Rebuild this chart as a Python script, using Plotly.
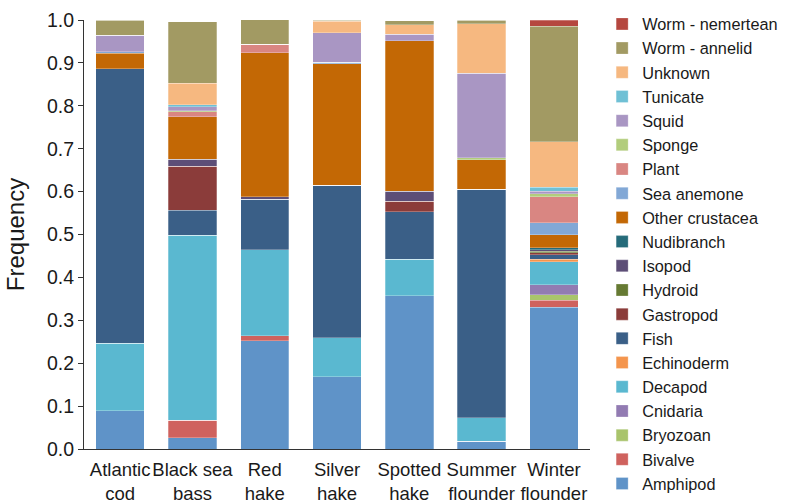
import plotly.graph_objects as go

# Predator species (x categories)
species = ["Atlantic<br>cod", "Black sea<br>bass", "Red<br>hake", "Silver<br>hake",
           "Spotted<br>hake", "Summer<br>flounder", "Winter<br>flounder"]

# Prey categories, bottom of stack first
prey = ["Amphipod", "Bivalve", "Bryozoan", "Cnidaria", "Decapod", "Echinoderm", "Fish",
        "Gastropod", "Hydroid", "Isopod", "Nudibranch", "Other crustacea", "Sea anemone",
        "Plant", "Sponge", "Squid", "Tunicate", "Unknown", "Worm - annelid", "Worm - nemertean"]

colors = ["#5f93c8", "#cf625e", "#a9c46c", "#927bb2", "#5ab8d0", "#f4954d", "#3a5f87",
          "#8b3c3a", "#667a33", "#5d4e77", "#256b7a", "#c36805", "#82a8d6",
          "#d98682", "#b2cd7c", "#a996c3", "#6fc0d5", "#f6b880", "#a29a63", "#b5473f"]

# Diet frequency per prey category, one value per species (same order as `species`)
amphipod        = [0.089, 0.026, 0.252, 0.169, 0.357, 0.018, 0.331]
bivalve         = [0.000, 0.041, 0.012, 0.000, 0.000, 0.000, 0.016]
bryozoan        = [0.000, 0.000, 0.000, 0.000, 0.000, 0.000, 0.013]
cnidaria        = [0.000, 0.000, 0.000, 0.000, 0.000, 0.000, 0.023]
decapod         = [0.158, 0.431, 0.200, 0.090, 0.085, 0.055, 0.053]
echinoderm      = [0.000, 0.000, 0.000, 0.000, 0.000, 0.000, 0.006]
fish            = [0.639, 0.059, 0.118, 0.356, 0.111, 0.533, 0.011]
gastropod       = [0.000, 0.102, 0.000, 0.000, 0.025, 0.000, 0.005]
hydroid         = [0.000, 0.000, 0.000, 0.000, 0.000, 0.000, 0.003]
isopod          = [0.000, 0.016, 0.006, 0.000, 0.023, 0.000, 0.003]
nudibranch      = [0.000, 0.000, 0.000, 0.000, 0.000, 0.000, 0.005]
other_crustacea = [0.037, 0.099, 0.336, 0.283, 0.351, 0.068, 0.030]
sea_anemone     = [0.003, 0.000, 0.000, 0.004, 0.000, 0.000, 0.028]
plant           = [0.000, 0.012, 0.019, 0.000, 0.000, 0.000, 0.061]
sponge          = [0.000, 0.003, 0.000, 0.000, 0.000, 0.005, 0.007]
squid           = [0.039, 0.009, 0.000, 0.068, 0.015, 0.197, 0.006]
tunicate        = [0.000, 0.005, 0.000, 0.000, 0.000, 0.000, 0.009]
unknown         = [0.000, 0.050, 0.000, 0.027, 0.022, 0.115, 0.106]
worm_annelid    = [0.035, 0.143, 0.058, 0.003, 0.009, 0.009, 0.270]
worm_nemertean  = [0.000, 0.000, 0.000, 0.000, 0.000, 0.000, 0.014]

series = [amphipod, bivalve, bryozoan, cnidaria, decapod, echinoderm, fish, gastropod,
          hydroid, isopod, nudibranch, other_crustacea, sea_anemone, plant, sponge, squid,
          tunicate, unknown, worm_annelid, worm_nemertean]

fig = go.Figure()
for name, vals, col in zip(prey, series, colors):
    fig.add_trace(go.Bar(
        x=species, y=vals, name=name,
        marker=dict(color=col, line=dict(color="rgba(255,255,255,0.45)", width=0.6)),
    ))

font_family = "Liberation Sans, Arial, Helvetica, sans-serif"
text_color = "#1a1a1a"

fig.update_layout(
    barmode="stack",
    bargap=0.33,
    width=795, height=503,
    margin=dict(l=84, r=175, t=20, b=54),
    plot_bgcolor="white",
    paper_bgcolor="white",
    font=dict(family=font_family, color=text_color, size=16),
    showlegend=True,
    legend=dict(
        traceorder="reversed",
        x=1.024, xanchor="left",
        y=0.455, yanchor="middle",
        maxheight=500,
        font=dict(size=16.3, family=font_family, color=text_color),
        bgcolor="rgba(0,0,0,0)",
        itemwidth=30,
        tracegroupgap=0,
    ),
    xaxis=dict(
        showline=True, linecolor="#333333", linewidth=1,
        ticks="", showgrid=False,
        tickangle=0, automargin=False,
        ticklabelstandoff=4,
        tickfont=dict(size=18.5, family=font_family, color=text_color),
    ),
    yaxis=dict(
        range=[0, 1.0],
        dtick=0.1, tickformat=".1f",
        showline=True, linecolor="#333333", linewidth=1,
        ticks="outside", ticklen=5, tickcolor="#333333",
        showgrid=False, zeroline=False, automargin=False,
        tickfont=dict(size=19.5, family=font_family, color=text_color),
        title=dict(text="Frequency", font=dict(size=24, family=font_family, color=text_color)),
    ),
)

fig.write_html("out.html")
